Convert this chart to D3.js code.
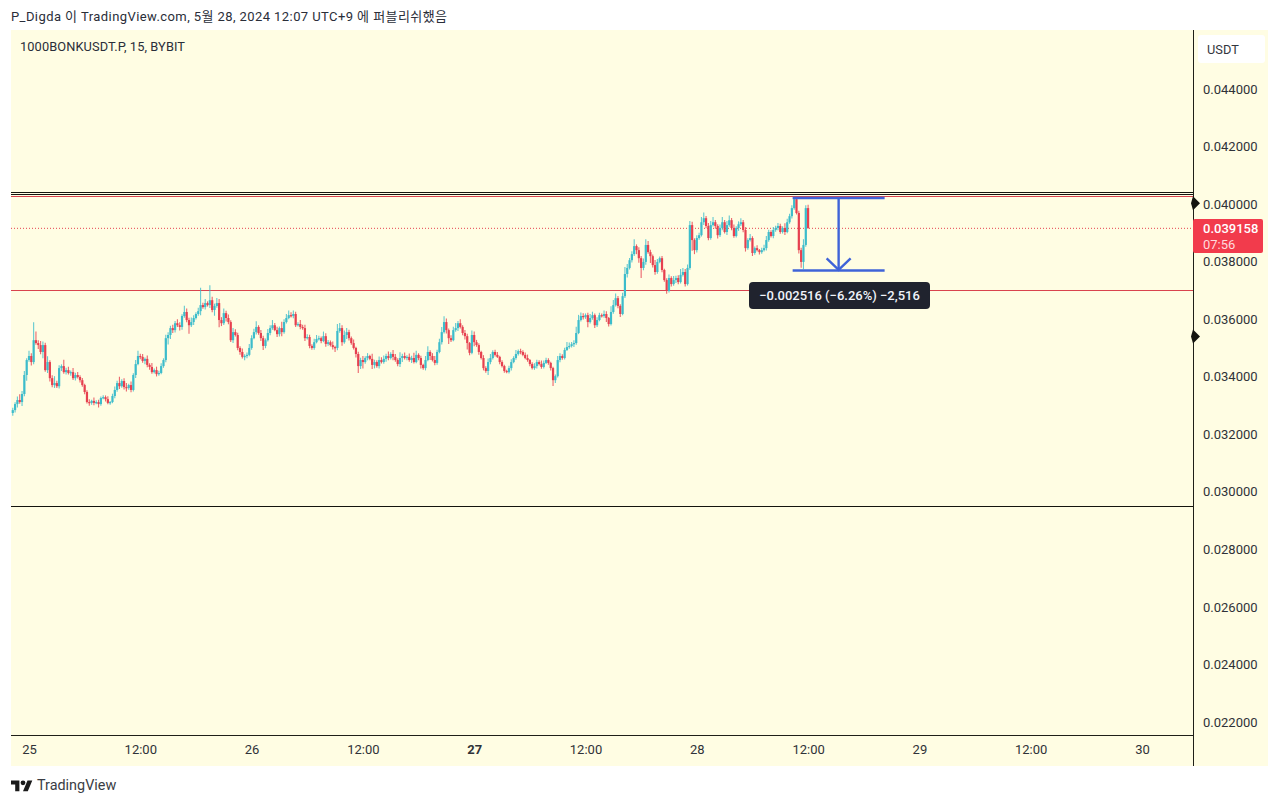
<!DOCTYPE html>
<html><head><meta charset="utf-8">
<script src="https://cdn.jsdelivr.net/npm/d3@7"></script>
<style>html,body{margin:0;padding:0;background:#fff;overflow:hidden}svg{display:block}
text{font-family:Roboto,"Noto Sans CJK KR",sans-serif;fill:#2a2e39}</style></head>
<body><script>
const titleText = "P_Digda 이 TradingView.com, 5월 28, 2024 12:07 UTC+9 에 퍼블리쉬했음";
const symbolText = "1000BONKUSDT.P, 15, BYBIT";
const priceTicks = [22,24,26,28,30,32,34,36,38,40,42,44]; // in 0.001 USDT
const timeTicks = ["2024-05-25T00:00","2024-05-25T12:00","2024-05-26T00:00","2024-05-26T12:00","2024-05-27T00:00","2024-05-27T12:00","2024-05-28T00:00","2024-05-28T12:00","2024-05-29T00:00","2024-05-29T12:00","2024-05-30T00:00"];
const timeLabels = ["25","12:00","26","12:00","27","12:00","28","12:00","29","12:00","30"];
const lastBarTime = "2024-05-28T12:00";
const lastPrice = 39.158, countdown = "07:56";
const blackLevels = [40.42,40.35,29.5];
const redLevels = [40.28,37.01];
const markerPrices = [40.03,35.4];
const measureFrom = 40.21, measureTo = 37.694;
const measureText = "−0.002516 (−6.26%) −2,516";
const closes = [
32.84,33.05,33.19,33.12,33.40,34.06,34.58,34.72,34.51,35.27,
35.17,35.10,34.86,35.10,34.23,34.51,33.95,33.71,33.78,33.67,
34.30,34.37,34.16,34.23,34.13,34.16,33.95,34.06,33.99,33.88,
33.71,33.47,33.12,33.09,33.16,33.09,33.12,33.05,33.26,33.29,
33.22,33.09,33.12,33.33,33.54,33.78,33.67,33.85,33.64,33.61,
33.71,33.54,34.06,34.44,34.72,34.69,34.55,34.62,34.41,34.34,
34.16,34.23,34.09,34.13,34.37,34.58,35.34,35.45,35.69,35.62,
35.86,35.79,35.73,36.11,36.25,35.97,35.79,35.90,36.04,36.18,
36.28,36.49,36.42,36.56,36.49,36.66,36.32,36.46,36.56,35.97,
35.86,36.21,36.04,35.90,35.27,35.55,35.45,35.00,34.86,34.69,
34.72,34.76,35.00,35.34,35.55,35.73,35.52,35.34,35.07,35.27,
35.52,35.69,35.79,35.62,35.48,35.69,35.55,35.90,36.04,36.14,
36.11,36.18,35.79,35.83,35.73,35.69,35.34,35.38,35.07,35.00,
35.20,35.31,35.34,35.24,35.41,35.14,35.20,35.10,35.03,35.00,
35.59,35.69,35.20,35.45,35.55,35.34,35.17,35.00,34.79,34.37,
34.58,34.51,34.65,34.72,34.62,34.41,34.51,34.37,34.58,34.51,
34.62,34.72,34.65,34.79,34.69,34.58,34.44,34.65,34.72,34.65,
34.69,34.58,34.65,34.51,34.76,34.65,34.41,34.30,34.58,34.86,
34.72,34.58,34.48,34.86,35.20,35.55,35.90,35.62,35.34,35.27,
35.62,35.69,35.86,35.73,35.52,35.41,35.17,34.83,35.45,35.20,
35.10,34.86,34.65,34.30,34.20,34.51,34.65,34.86,34.76,34.69,
34.51,34.37,34.20,34.16,34.30,34.51,34.65,34.79,34.89,34.86,
34.76,34.65,34.58,34.44,34.30,34.37,34.51,34.44,34.34,34.48,
34.58,34.48,34.30,33.88,34.02,34.58,34.72,34.65,34.93,35.03,
35.07,35.13,35.17,35.52,35.97,36.11,36.07,36.14,35.90,36.04,
36.14,35.79,35.97,36.14,36.11,36.18,36.04,35.83,36.25,36.49,
36.73,36.46,36.18,36.80,37.57,37.78,38.05,38.26,38.54,38.40,
38.12,37.78,37.99,38.58,38.33,38.19,37.88,37.64,37.99,38.12,
37.71,37.36,36.98,37.43,37.22,37.36,37.43,37.29,37.54,37.64,
37.22,37.78,39.27,38.75,38.40,38.82,38.92,39.37,39.51,39.24,
38.82,39.27,39.37,39.24,38.92,39.17,39.37,39.03,39.27,39.44,
39.17,38.89,39.17,39.30,39.37,39.10,38.47,38.75,38.82,38.30,
38.47,38.40,38.33,38.40,38.47,38.75,39.03,38.89,39.10,39.17,
39.24,39.03,39.17,39.03,39.37,39.58,39.86,40.17,39.69,38.40,
37.99,38.58,39.86,39.158];
const wickUp = [ // hundredths of the price unit above the body
8,6,12,20,10,14,6,18,10,62, 30,10,14,12,8,20,6,10,24,8, 10,6,22,8,12,6,14,8,10,6, 8,5,6,10,4,12,6,8,5,7,
6,10,4,8,12,8,22,6,10,14, 5,12,6,14,18,8,10,5,12,6, 14,6,12,8,10,6,12,10,8,12, 8,14,10,6,22,12,8,16,10,6,
12,60,8,14,6,52,12,8,18,14, 10,16,8,12,6,14,10,8,6,12, 6,8,14,10,12,20,6,10,8,6, 14,10,18,8,12,6,22,10,14,16,
10,12,8,6,14,8,12,10,8,6, 12,14,8,6,16,10,8,6,12,5, 24,18,10,16,14,8,6,12,4,8, 8,14,6,10,4,18,8,6,12,10,
12,8,16,6,14,10,6,20,8,12, 6,12,8,18,14,6,8,4,14,20, 6,10,14,8,12,18,20,12,6,10, 12,18,8,14,6,10,8,4,16,12,
8,6,4,10,6,12,14,6,8,10, 4,6,5,4,8,10,6,14,6,8, 6,8,12,4,6,10,8,6,12,8, 8,6,4,5,6,14,10,6,8,18,
12,8,10,22,18,12,10,6,8,14, 12,6,10,8,6,12,10,4,20,18, 16,8,6,12,24,14,8,10,24,6, 10,8,12,20,14,8,6,18,10,6,
8,4,6,12,6,14,8,10,20,14, 10,12,14,12,6,10,8,18,20,8, 10,14,18,8,6,12,18,8,14,16, 8,12,6,10,14,8,10,6,14,6,
6,10,4,8,12,14,8,6,10,8, 10,8,6,16,12,8,10,5,6,8, 8,20,10,12];
const wickDown = [ // hundredths of the price unit below the body
10,8,12,6,14,8,20,6,12,8, 6,14,8,22,6,10,12,8,10,6, 8,10,6,8,5,10,6,8,5,8, 6,8,5,10,6,8,5,12,6,4,
8,5,6,4,8,6,10,5,8,12, 6,8,5,10,4,8,6,12,8,10, 6,5,8,6,4,6,8,22,14,10, 8,6,12,10,6,8,30,6,10,5,
6,14,6,8,5,10,8,20,6,25, 10,6,12,8,6,10,5,8,10,6, 12,8,5,6,4,8,6,10,14,8, 5,8,6,4,10,8,14,6,5,4,
5,8,6,4,8,6,10,5,8,6, 6,4,5,8,4,10,6,5,8,14, 8,6,12,5,14,8,6,5,12,24, 10,22,6,8,5,14,12,6,8,5,
6,10,8,5,12,6,8,10,14,5, 8,6,10,5,4,8,12,6,8,4, 14,5,8,6,4,8,5,12,20,6, 4,6,10,5,8,12,22,8,5,14,
6,10,5,8,6,14,8,5,6,4, 8,5,6,4,5,8,4,6,5,8, 5,4,6,8,5,6,8,5,6,5, 4,6,8,20,10,5,8,6,5,4,
6,5,10,6,4,5,8,6,18,5, 6,10,6,4,5,6,14,8,5,6, 5,8,10,4,6,12,5,8,6,14, 16,35,8,10,6,24,8,10,6,5,
8,6,10,5,8,6,10,8,5,6, 8,5,6,37,14,8,6,5,10,8, 8,6,5,10,12,6,8,5,10,6, 8,6,5,10,6,8,12,6,5,10,
6,5,8,6,5,8,6,5,8,6, 8,6,5,10,4,5,8,6,5,12, 20,25,6,0];

const W=1280,H=805;
const UP="#3cbccb",DOWN="#e6404f",BG="#fffde3",BLUE="#3f63d8",AXIS="#1f1f18";
const parse=s=>new Date(s+":00Z");
const plotL=11,plotR=1193,plotT=30,plotB=735,panelR=1268,panelB=766;
const x=d3.scaleUtc().domain([parse(timeTicks[0]),parse(timeTicks[10])]).range([29,1142]);
const y=d3.scaleLinear().domain([22,44]).range([722,89]);
const last=parse(lastBarTime).getTime();
const bars=closes.map((c,i)=>{
  const o=i?closes[i-1]:c-0.1, top=Math.max(o,c), bot=Math.min(o,c);
  return {t:new Date(last-(closes.length-1-i)*9e5),o,c,h:top+wickUp[i]/100,l:bot-wickDown[i]/100};
});
const svg=d3.select("body").append("svg").attr("width",W).attr("height",H);
svg.append("rect").attr("x",plotL).attr("y",plotT).attr("width",panelR-plotL).attr("height",panelB-plotT).attr("fill",BG);
svg.append("text").attr("x",11).attr("y",20.5).attr("font-size",13).attr("textLength",436).text(titleText);
svg.append("text").attr("x",20).attr("y",51).attr("font-size",12.8).attr("textLength",165).text(symbolText);

// levels
const lv=svg.append("g").attr("shape-rendering","crispEdges");
lv.selectAll(".b").data(blackLevels).join("line").attr("x1",plotL).attr("x2",plotR).attr("y1",y).attr("y2",y).attr("stroke","#14140e").attr("stroke-width",1);
const lr=svg.append("g").attr("shape-rendering","crispEdges");
lr.selectAll("line").data(redLevels).join("line").attr("x1",plotL).attr("x2",plotR).attr("y1",y).attr("y2",y).attr("stroke","#d9434e").attr("stroke-width",1);
svg.append("line").attr("x1",plotL).attr("x2",plotR).attr("y1",y(lastPrice)).attr("y2",y(lastPrice)).attr("stroke","#e6404f").attr("stroke-width",1).attr("stroke-dasharray","1 2");

// candles
const cg=svg.append("g");
const col=d=>d.c>=d.o?UP:DOWN;
cg.selectAll("line").data(bars).join("line")
  .attr("x1",d=>x(d.t)).attr("x2",d=>x(d.t)).attr("y1",d=>y(d.h)).attr("y2",d=>y(d.l))
  .attr("stroke",col).attr("stroke-width",1.1).attr("stroke-opacity",.8);
cg.selectAll("rect").data(bars).join("rect")
  .attr("x",d=>x(d.t)-1.1).attr("width",2.2)
  .attr("y",d=>y(Math.max(d.o,d.c))).attr("height",d=>Math.max(1.2,Math.abs(y(d.o)-y(d.c))))
  .attr("fill",col);

// measure tool
const mL=x(parse("2024-05-28T10:20")),mR=x(parse("2024-05-28T20:15")),mC=(mL+mR)/2;
const m=svg.append("g").attr("stroke",BLUE).attr("stroke-width",2.4).attr("fill","none");
m.append("line").attr("x1",mL).attr("x2",mR).attr("y1",y(measureFrom)).attr("y2",y(measureFrom));
m.append("line").attr("x1",mL).attr("x2",mR).attr("y1",y(measureTo)).attr("y2",y(measureTo));
m.append("line").attr("x1",mC).attr("x2",mC).attr("y1",y(measureFrom)).attr("y2",y(measureTo));
m.append("path").attr("d",`M${mC-12},${y(measureTo)-12}L${mC},${y(measureTo)-.5}L${mC+12},${y(measureTo)-12}`);
svg.append("rect").attr("x",749).attr("y",282).attr("width",181).attr("height",27).attr("rx",4).attr("fill","#20232e");
svg.append("text").attr("x",839.5).attr("y",300).attr("text-anchor","middle").attr("font-size",13).attr("font-weight",500).style("fill","#f0f3fa").text(measureText);

// axes
const yAxis=d3.axisRight(y).tickValues(priceTicks).tickSize(0).tickPadding(10).tickFormat(v=>(v/1000).toFixed(6));
const ya=svg.append("g").attr("transform",`translate(${plotR},0)`).call(yAxis);
ya.select(".domain").remove();
ya.selectAll("text").attr("font-size",13).attr("font-family",null).style("fill","#2f3238");
const xAxis=d3.axisBottom(x).tickValues(timeTicks.map(parse)).tickSize(0).tickPadding(10).tickFormat((d,i)=>timeLabels[i]);
const xa=svg.append("g").attr("transform",`translate(0,${plotB})`).call(xAxis);
xa.select(".domain").remove();
xa.selectAll("text").attr("font-size",13).attr("font-family",null).style("fill","#2f3238")
  .attr("font-weight",(d,i)=>timeLabels[i]==="27"?700:400);
svg.append("line").attr("x1",plotR).attr("x2",plotR).attr("y1",plotT).attr("y2",panelB).attr("stroke",AXIS).attr("stroke-width",1).attr("shape-rendering","crispEdges");
svg.append("line").attr("x1",plotL).attr("x2",plotR).attr("y1",plotB).attr("y2",plotB).attr("stroke",AXIS).attr("stroke-width",1).attr("shape-rendering","crispEdges");

// markers
svg.selectAll(".mk").data(markerPrices).join("path")
  .attr("d",p=>`M${plotR},${y(p)-7}L${plotR+7},${y(p)}L${plotR},${y(p)+7}L${plotR-2},${y(p)}Z`).attr("fill","#14140e");

// USDT box & last price tag
svg.append("rect").attr("x",1198).attr("y",35).attr("width",67).attr("height",28).attr("rx",3).attr("fill","#fff");
svg.append("text").attr("x",1207).attr("y",53.5).attr("font-size",12.8).style("fill","#33363d").text("USDT");
svg.append("rect").attr("x",plotR).attr("y",219).attr("width",70).attr("height",34).attr("rx",2).attr("fill","#f23b4c");
svg.append("text").attr("x",1203).attr("y",233).attr("font-size",13).attr("font-weight",500).style("fill","#fff").text((lastPrice/1000).toFixed(6));
svg.append("text").attr("x",1203).attr("y",249).attr("font-size",13).style("fill","#ffd9dd").text(countdown);

// footer
const logo=svg.append("g").attr("transform","translate(11,778) scale(0.6)").attr("fill","#1b1b1b");
logo.append("path").attr("d","M14 22H7V11H0V4h14v18zM28 22h-8l7.5-18h8L28 22z");
logo.append("circle").attr("cx",20).attr("cy",8).attr("r",4);
svg.append("text").attr("x",37).attr("y",790).attr("font-size",14.4).style("fill","#3a3d44").text("TradingView");
</script></body></html>
